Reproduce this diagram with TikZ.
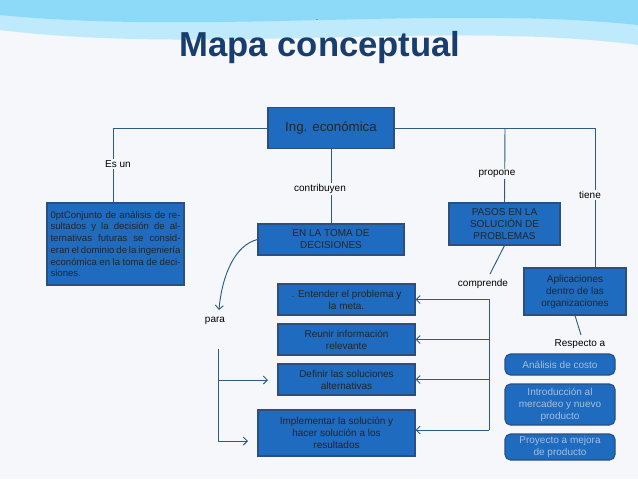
\documentclass[tikz,border=0pt]{standalone}
\usepackage{fontspec}
\setmainfont{Liberation Sans}
\usetikzlibrary{arrows.meta}
\definecolor{boxblue}{HTML}{1E6BBF}
\definecolor{boxedge}{HTML}{2B4F7E}
\definecolor{linkblue}{HTML}{2F5A88}
\definecolor{titleblue}{HTML}{173E6E}
\definecolor{softtext}{HTML}{A9BEDA}
\definecolor{bgcol}{HTML}{F5F7FA}
\tikzset{
  concept/.style={draw=boxedge, fill=boxblue, line width=0.8pt, text=black!85, align=center, font=\fontsize{7.5}{9}\selectfont, inner sep=1pt},
  softconcept/.style={concept, rounded corners=4pt, text=softtext},
  link/.style={draw=linkblue, line width=0.7pt},
  linkarrow/.style={link, -{Straight Barb[length=3pt,width=6pt]}},
  linklabel/.style={fill=bgcol, font=\fontsize{7.5}{9}\selectfont, inner sep=1pt}
}
\begin{document}
\begin{tikzpicture}[x=0.75pt, y=-0.75pt]
\fill[bgcol] (0,0) rectangle (638,479);
\useasboundingbox (0,0) rectangle (638,479);
% banner
\fill[cyan!25] (0,0) -- (638,0) -- (638,45) .. controls (450,20) and (200,55) .. (0,30) -- cycle;
\fill[cyan!45] (0,0) -- (638,0) -- (638,25) .. controls (450,5) and (200,35) .. (0,15) -- cycle;
\node (dot) at (317,20) {\tiny .};
\node[font=\bfseries\fontsize{26}{30}\selectfont, text=titleblue] (title) at (320,48) {Mapa conceptual};

% conceptos
\node[concept, minimum width=126*0.75pt, minimum height=41*0.75pt, font=\fontsize{10}{12}\selectfont] (ing) at (331,128) {Ing. económica};
\node[concept, minimum width=137*0.75pt, minimum height=82*0.75pt, text width=130*0.75pt, align=justify, font=\fontsize{7.2}{8.8}\selectfont\hyphenpenalty=10000] (conj) at (115.5,244) {Conjunto de análisis de resultados y la decisión de alternativas futuras se consideran el dominio de la ingeniería económica en la toma de decisiones.};
\node[concept, minimum width=146*0.75pt, minimum height=31*0.75pt] (toma) at (331,239.5) {EN LA TOMA DE\\DECISIONES};
\node[concept, minimum width=111*0.75pt, minimum height=42*0.75pt] (pasos) at (504.5,224) {PASOS EN LA\\SOLUCIÓN DE\\PROBLEMAS};
\node[concept, minimum width=102*0.75pt, minimum height=47*0.75pt] (apli) at (575,291.5) {Aplicaciones\\dentro de las\\organizaciones};
\node[concept, minimum width=137*0.75pt, minimum height=31*0.75pt] (entender) at (346.5,299.5) {. Entender el problema y\\la meta.};
\node[concept, minimum width=137*0.75pt, minimum height=31*0.75pt] (reunir) at (346.5,339.5) {Reunir información\\relevante};
\node[concept, minimum width=137*0.75pt, minimum height=31*0.75pt] (definir) at (346.5,379.5) {Definir las soluciones\\alternativas};
\node[concept, minimum width=157*0.75pt, minimum height=46*0.75pt] (implementar) at (336.5,433) {Implementar la solución y\\hacer solución a los\\resultados};
\node[softconcept, minimum width=110*0.75pt, minimum height=21*0.75pt] (costo) at (560,364.5) {Análisis de costo};
\node[softconcept, minimum width=110*0.75pt, minimum height=41*0.75pt] (mercadeo) at (560,404.5) {Introducción al\\mercadeo y nuevo\\producto};
\node[softconcept, minimum width=110*0.75pt, minimum height=26*0.75pt] (proyecto) at (560,447) {Proyecto a mejora\\de producto};

% etiquetas
\node[linklabel] (comprende) at (483,284) {comprende};
\node[linklabel] (respecto) at (580,344) {Respecto a};
\node[linklabel] (para) at (215,321) {para};
\coordinate (cL) at (113,128);
\coordinate (cR) at (595,128);
\coordinate (cP) at (505,128);
\coordinate (pTop) at (489,299);
\coordinate (pBot) at (489,430);
\coordinate (qTop) at (218,349);
\coordinate (qBot) at (218,441);

% conectores
\draw[link] (ing.west) -- (cL) -- (conj.north -| cL);
\draw[link] (ing.east) -- (cR) -- (apli.north -| cR);
\draw[link] (cP) -- (pasos.north);
\draw[link] (ing.south) -- (toma.north -| ing.south);
\node[linklabel] (esun) at (118,164) {Es un};
\node[linklabel] (contri) at (320,189) {contribuyen};
\node[linklabel] (propone) at (497,174) {propone};
\node[linklabel] (tiene) at (590,195) {tiene};
\draw[link] (pasos.south) -- (490,274);
\draw[link] (apli.south) -- (581,335);
\draw[link] (pTop) -- (pBot);
\foreach \t in {entender, reunir, definir}
  \draw[linkarrow] (pTop |- \t.east) -- (\t.east);
\draw[linkarrow] (pBot) -- (pBot -| implementar.east);
\draw[linkarrow] (toma.west) .. controls (235,245) and (222,275) .. (219,310);
\draw[link] (qTop) -- (qBot);
\draw[linkarrow] (218,380) -- (268,380);
\draw[linkarrow] (qBot) -- (248,441);
\end{tikzpicture}
\end{document}
